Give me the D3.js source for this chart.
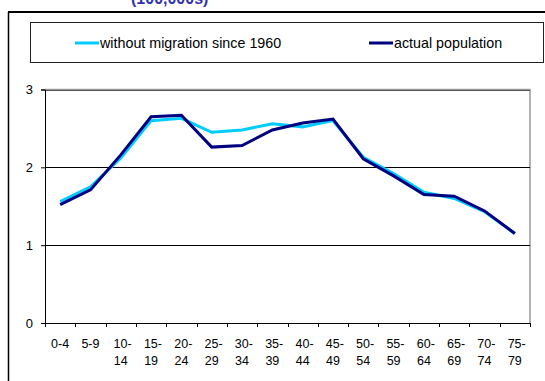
<!DOCTYPE html>
<html><head><meta charset="utf-8">
<script src="https://cdn.jsdelivr.net/npm/d3@7/dist/d3.min.js"></script>
<style>body{margin:0;background:#fff;}svg{display:block;font-family:"Liberation Sans",Arial,sans-serif;}</style>
</head><body>
<script>
const categories = ["0-4","5-9","10-14","15-19","20-24","25-29","30-34","35-39","40-44","45-49","50-54","55-59","60-64","65-69","70-74","75-79"];
const withoutMigration = [1.56,1.75,2.12,2.60,2.63,2.45,2.48,2.56,2.52,2.60,2.13,1.92,1.68,1.60,1.43,1.15];
const actualPopulation = [1.52,1.71,2.16,2.65,2.67,2.26,2.28,2.48,2.57,2.62,2.11,1.89,1.65,1.63,1.44,1.15];
const yTicks = [0,1,2,3];
const seriesNames = ["without migration since 1960","actual population"];
const colors = ["#00CCFF","#000080"];
const titleText = "(100,000s)";

const W=545,H=381;
const svg=d3.select("body").append("svg").attr("width",W).attr("height",H);
const L=45,R=530,T=89.5,B=323;
const x=d3.scaleBand().domain(categories).range([L,R]);
const y=d3.scaleLinear().domain([0,3]).range([B,T]);

// clipped title (cut at the top edge, as in the reference)
svg.append("text").attr("x",131).attr("y",4).attr("font-size",16).attr("font-weight","bold")
  .attr("fill","#3333AA").text(titleText);

// outer frame
svg.append("line").attr("x1",8).attr("x2",W).attr("y1",12).attr("y2",12).attr("stroke","#000").attr("stroke-width",2);
svg.append("line").attr("x1",8.5).attr("x2",8.5).attr("y1",12).attr("y2",H).attr("stroke","#000").attr("stroke-width",1.5);

// legend box
svg.append("rect").attr("x",30.5).attr("y",22.5).attr("width",513).attr("height",40).attr("fill","#fff").attr("stroke","#222").attr("stroke-width",1);
const legX=[75,369];
seriesNames.forEach((n,i)=>{
  svg.append("line").attr("x1",legX[i]).attr("x2",legX[i]+24).attr("y1",43).attr("y2",43).attr("stroke",colors[i]).attr("stroke-width",3);
  svg.append("text").attr("x",legX[i]+25).attr("y",48).attr("font-size",14.3).attr("fill","#000").text(n);
});

// plot border (gray top/right)
svg.append("path").attr("d",`M${L},${T}H${R}V${B}`).attr("fill","none").attr("stroke","#999").attr("stroke-width",1.5);
// gridlines
svg.append("g").selectAll("line").data(yTicks.filter(d=>d>0)).join("line")
  .attr("x1",L).attr("x2",R).attr("y1",d=>Math.round(y(d))+0.5).attr("y2",d=>Math.round(y(d))+0.5)
  .attr("stroke",d=>d===3?"#555":"#000").attr("stroke-width",1);

// y axis
const ya=svg.append("g").attr("transform",`translate(${L},0)`)
  .call(d3.axisLeft(y).tickValues(yTicks).tickSize(4).tickPadding(8).tickFormat(d3.format("d")));
ya.select(".domain").attr("stroke","#000");
ya.selectAll("text").attr("font-size",13).attr("fill","#000").attr("font-family","Liberation Sans, Arial");

// x axis
const xa=svg.append("g").attr("transform",`translate(0,${B})`);
xa.append("line").attr("x1",L).attr("x2",R).attr("y1",0.5).attr("y2",0.5).attr("stroke","#000");
const edges=categories.map(c=>x(c)).concat([R]);
xa.selectAll("line.t").data(edges).join("line").attr("class","t")
  .attr("x1",d=>Math.round(d)+0.5).attr("x2",d=>Math.round(d)+0.5).attr("y1",0).attr("y2",4).attr("stroke","#000");
xa.selectAll("text").data(categories).join("text")
  .attr("x",d=>x(d)+x.bandwidth()/2).attr("y",25).attr("font-size",12.5).attr("fill","#000")
  .attr("text-anchor","middle")
  .each(function(d){
    const parts=d.split("-");
    const t=d3.select(this);
    if(parts[0].length>1){
      t.append("tspan").attr("x",x(d)+x.bandwidth()/2).attr("dx","0.15em").text(parts[0]+"-");
      t.append("tspan").attr("x",x(d)+x.bandwidth()/2).attr("dy",17).text(parts[1]);
    } else t.text(d);
  });

// lines
const line=d3.line().x((d,i)=>x(categories[i])+x.bandwidth()/2).y(d=>y(d));
[withoutMigration,actualPopulation].forEach((s,i)=>{
  svg.append("path").datum(s).attr("d",line).attr("fill","none").attr("stroke",colors[i])
    .attr("stroke-width",3).attr("stroke-linejoin","miter");
});
</script>
</body></html>
